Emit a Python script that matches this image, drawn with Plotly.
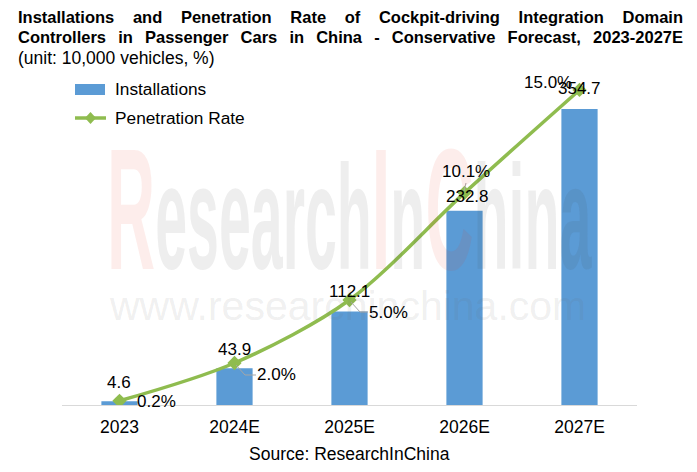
import plotly.graph_objects as go

categories = ["2023", "2024E", "2025E", "2026E", "2027E"]
installations = [4.6, 43.9, 112.1, 232.8, 354.7]
penetration = [0.2, 2.0, 5.0, 10.1, 15.0]
install_labels = ["4.6", "43.9", "112.1", "232.8", "354.7"]
rate_labels = ["0.2%", "2.0%", "5.0%", "10.1%", "15.0%"]

FONT = "Liberation Sans"
W, H = 697, 472
L, R, T, B = 62, 637, 70, 405  # plot box in px


def px(x):
    return (x - L) / (R - L)


def py(y):
    return (B - y) / (B - T)


fig = go.Figure()

fig.add_trace(go.Bar(x=categories, y=installations, name="Installations",
                     marker=dict(color="#5b9bd5", line_width=0), width=0.315,
                     showlegend=False))
fig.add_trace(go.Scatter(x=categories, y=penetration, name="Penetration Rate", yaxis="y2",
                         mode="lines+markers",
                         line=dict(color="#8fbc4f", width=3.5, shape="spline", smoothing=0.9),
                         marker=dict(symbol="diamond", size=11, color="#8fbc4f"),
                         showlegend=False))

annos = []


def txt(x, y, s, size=17, color="#000000", anchor="center", bold=False):
    annos.append(dict(xref="paper", yref="paper", x=px(x), y=py(y),
                      text="<b>%s</b>" % s if bold else s, showarrow=False, xanchor=anchor, yanchor="middle",
                      font=dict(family=FONT, size=size, color=color)))


# watermark, the capitals are taller and red (opacity comes from the annotation font)
GREY = "rgba(70,70,70,0.09)"
cap = "<span style='font-size:172px;color:#e6321e'>%s</span>"
wm = cap % "R" + "esearch" + cap % "I" + "n" + cap % "C" + "hina"
txt(105, 209, wm, 148, GREY, "left", True)
txt(347, 306, "www.researchinchina.com", 41, "rgba(110,110,110,0.11)")

# titles
txt(16, 17, "Installations and Penetration Rate of Cockpit-driving Integration Domain", 16.5, anchor="left", bold=True)
txt(16, 37, "Controllers in Passenger Cars in China - Conservative Forecast, 2023-2027E", 16.5, anchor="left", bold=True)
txt(16, 58, "(unit: 10,000 vehicles, %)", 17.5, anchor="left")

# data labels
install_pos = [(119, 382), (234, 349), (349, 291), (467, 196), (579, 88)]
rate_pos = [(156, 401), (276, 374), (388, 312), (466, 171), (548, 83)]
for (x, y), s in zip(install_pos, install_labels):
    txt(x, y, s)
for (x, y), s in zip(rate_pos, rate_labels):
    txt(x, y, s)

# leader lines
for pts in [[(236, 365), (245, 375), (256, 375)], [(351, 302), (360, 312), (368, 312)], [(466, 183), (464, 191)]]:
    path = "M " + " L ".join("%f %f" % (px(a), py(b)) for a, b in pts)
    fig.add_shape(type="path", xref="paper", yref="paper", path=path,
                  line=dict(color="#a6a6a6", width=1))

# legend
fig.add_shape(type="rect", xref="paper", yref="paper", x0=px(75), x1=px(105),
              y0=py(95), y1=py(84), fillcolor="#5b9bd5", line_width=0)
fig.add_shape(type="line", xref="paper", yref="paper", x0=px(75), x1=px(106),
              y0=py(118), y1=py(118), line=dict(color="#8fbc4f", width=3.5))
fig.add_shape(type="path", xref="paper", yref="paper",
              path="M %f %f L %f %f L %f %f L %f %f Z" % (
                  px(85), py(118), px(90.5), py(112), px(96), py(118), px(90.5), py(124)),
              fillcolor="#8fbc4f", line_width=0)
txt(113, 89, "Installations", 17.3, anchor="left")
txt(113, 118, "Penetration Rate", 17.3, anchor="left")

# source
txt(349, 454, "Source: ResearchInChina", 17.5)

fig.update_layout(
    width=W, height=H, margin=dict(l=L, r=W - R, t=T, b=H - B),
    paper_bgcolor="white", plot_bgcolor="rgba(0,0,0,0)", showlegend=False,
    annotations=annos, font=dict(family=FONT, color="#000000"),
    xaxis=dict(type="category", showline=True, linecolor="#d9d9d9", linewidth=1,
               ticks="outside", ticklen=6, tickcolor="rgba(0,0,0,0)",
               tickfont=dict(size=17.5, color="#000000"), showgrid=False),
    yaxis=dict(range=[0, 401.4], visible=False, showgrid=False),
    yaxis2=dict(range=[0, 15.95], overlaying="y", side="right", visible=False, showgrid=False),
)

# justify the two title lines and squeeze the big watermark, annotations can't do that by themselves
post = """
document.body.style.margin = '0';
var gd = document.querySelector('.js-plotly-plot');
gd.querySelectorAll('.annotation-text').forEach(function (t) {
  var s = t.textContent;
  var b = t.getBBox();
  if (s.indexOf('Installations and') === 0 || s.indexOf('Controllers in') === 0) {
    var n = s.split(' ').length - 1;
    t.style.wordSpacing = ((665 - b.width) / n) + 'px';
    var b2 = t.getBBox();
    t.setAttribute('transform', 'translate(' + (b.x - b2.x) + ',0)');
  }
  if (s === 'ResearchInChina') {
    var sx = 485 / b.width;
    t.setAttribute('transform', 'translate(' + b.x + ',0) scale(' + sx + ',1) translate(' + (-b.x) + ',0)');
  }
});
"""
fig.write_html("out.html", post_script=post, config={"displayModeBar": False})
